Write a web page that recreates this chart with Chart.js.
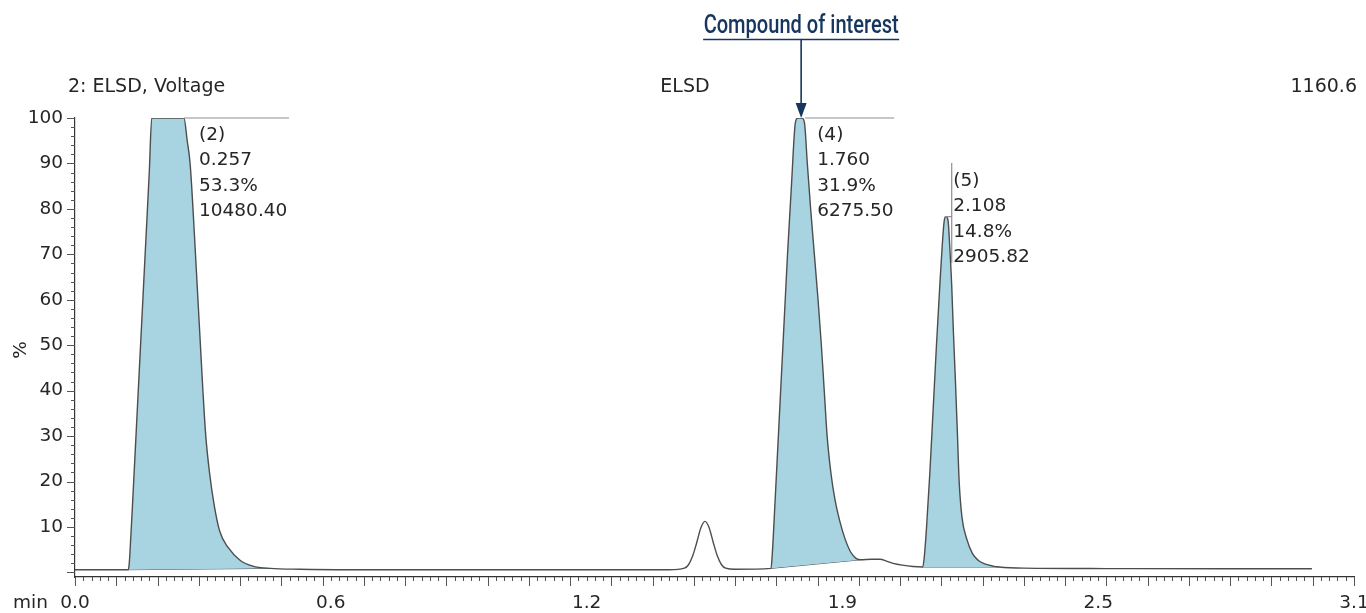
<!DOCTYPE html>
<html><head><meta charset="utf-8">
<script src="https://cdn.jsdelivr.net/npm/chart.js@4.4.1/dist/chart.umd.min.js"></script>
<style>html,body{margin:0;padding:0;background:#fff;overflow:hidden}canvas{display:block}</style>
</head><body>
<canvas id="c" width="1366" height="613"></canvas>
<script>
// ---- data ----
const timeMin = [0.000,0.060,0.110,0.129,0.131,0.133,0.140,0.150,0.160,0.170,0.180,0.186,0.225,0.264,0.272,0.279,0.286,0.292,0.298,0.304,0.310,0.317,0.326,0.337,0.351,0.371,0.400,0.431,0.473,0.545,0.667,0.900,1.200,1.440,1.477,1.487,1.497,1.507,1.517,1.527,1.537,1.547,1.557,1.567,1.577,1.600,1.687,1.690,1.697,1.707,1.717,1.727,1.737,1.746,1.752,1.762,1.768,1.775,1.783,1.792,1.801,1.809,1.816,1.823,1.832,1.842,1.853,1.866,1.880,1.893,1.905,1.930,1.951,1.967,1.983,2.005,2.031,2.054,2.058,2.064,2.072,2.080,2.088,2.096,2.102,2.107,2.111,2.116,2.120,2.125,2.129,2.134,2.139,2.143,2.150,2.161,2.175,2.189,2.205,2.225,2.240,2.300,2.500,2.800,2.998];
const signalPct = [0.6,0.6,0.6,0.6,1.5,4,16,34,52,70,88,100,100,100,95,90,80,70,60,50,40,30,22,15,9,5.5,2.7,1.4,0.9,0.7,0.6,0.6,0.6,0.6,0.95,1.7,3.6,6.6,9.85,11.25,9.85,6.6,3.6,1.7,0.95,0.7,0.9,4,16,34,52,70,86,99,100,100,99,90,80,70,60,50,40,30,22,16,11.5,7.5,4.5,3.1,2.8,2.9,2.9,2.5,2.0,1.6,1.3,1.2,3,10,22,36,50,63,72,77.5,78.3,77.5,72,63,53,42,30,20,12,7.5,4.2,2.7,1.9,1.4,1.2,0.95,0.85,0.8,0.8];

const peakIds     = ['(2)', '(4)', '(5)'];
const peakRT      = [0.257, 1.760, 2.108];
const peakAreaPct = ['53.3%', '31.9%', '14.8%'];
const peakArea    = ['10480.40', '6275.50', '2905.82'];
const peakStart   = [0.129, 1.687, 2.054];
const peakEnd     = [0.473, 1.905, 2.240];

const xTickValues = [0, 0.62, 1.24, 1.86, 2.48, 3.1];
const yTickValues = [0,10,20,30,40,50,60,70,80,90,100];

const headerLeft  = '2: ELSD, Voltage';
const headerMid   = 'ELSD';
const headerRight = '1160.6';
const yTitle = '%';
const xTitle = 'min';
const calloutText = 'Compound of interest';
const calloutPeak = 1;

// ---- build datasets ----
const FONT = '"DejaVu Sans", sans-serif';
const TXT = '#262626';
const FILL = '#a8d4e2';
const trace = timeMin.map((t,i)=>({x:t, y:signalPct[i]}));
const datasets = [];
peakStart.forEach((s,k)=>{
  const e = peakEnd[k];
  const seg = trace.filter(p=>p.x>=s-1e-9 && p.x<=e+1e-9);
  datasets.push({data:seg, borderWidth:0, pointRadius:0, backgroundColor:FILL,
    cubicInterpolationMode:'monotone', fill:'+1', order:2});
  datasets.push({data:[{x:s,y:seg[0].y},{x:e,y:seg[seg.length-1].y}], borderWidth:1, borderColor:'#555',
    pointRadius:0, fill:false, order:2});
});
datasets.push({data:trace, borderColor:'#4d4d4d', borderWidth:1.4, pointRadius:0, fill:false,
  cubicInterpolationMode:'monotone', order:1});

const labelStyle = [
  {dx:18, base:140, kind:'h', x0:3, x1:108},
  {dx:16, base:140, kind:'h', x0:4, x1:93},
  {dx:8.5, base:186, kind:'v', vx:7, vy0:163, vy1:263}
];

const deco = {
  id:'deco',
  afterDraw(chart){
    const {ctx, chartArea:a, scales:{x, y}} = chart;
    ctx.save();
    // minor / medium ticks
    ctx.strokeStyle = '#555'; ctx.lineWidth = 1;
    ctx.beginPath();
    for (let k=0; k<=155; k++){
      const px = Math.round(x.getPixelForValue(k*0.02))+0.5;
      const len = k%5===0 ? 9 : 4;
      ctx.moveTo(px, a.bottom); ctx.lineTo(px, a.bottom+len);
    }
    for (let v=0; v<=100; v+=2){
      const py = Math.round(y.getPixelForValue(v))+0.5;
      const len = v%10===0 ? 8 : 4;
      ctx.moveTo(a.left-len, py); ctx.lineTo(a.left, py);
    }
    ctx.stroke();

    // header
    ctx.fillStyle = TXT; ctx.font = '19px '+FONT; ctx.textBaseline='alphabetic';
    ctx.textAlign='left'; ctx.fillText(headerLeft, 68, 92);
    ctx.textAlign='center'; ctx.fillText(headerMid, 685, 92);
    ctx.textAlign='right'; ctx.fillText(headerRight, 1357, 92);

    // axis titles
    ctx.font = '18.5px '+FONT; ctx.textAlign='left';
    ctx.fillText(xTitle, 13, 608);
    ctx.save(); ctx.translate(26, 350); ctx.rotate(-Math.PI/2);
    ctx.textAlign='center'; ctx.fillText(yTitle, 0, 0); ctx.restore();

    // peak annotations
    const top = y.getPixelForValue(100);
    peakRT.forEach((rt,k)=>{
      const st = labelStyle[k];
      const px = x.getPixelForValue(rt);
      ctx.strokeStyle = '#8f8f8f'; ctx.lineWidth = 1.2;
      ctx.beginPath();
      if (st.kind==='h'){
        ctx.moveTo(px+st.x0, top); ctx.lineTo(px+st.x1, top);
      } else {
        const seg = trace.filter(p=>p.x>=peakStart[k] && p.x<=peakEnd[k]);
        const apex = Math.max(...seg.map(p=>p.y));
        const ay = y.getPixelForValue(apex);
        ctx.moveTo(px+st.vx, st.vy0); ctx.lineTo(px+st.vx, st.vy1);
        ctx.moveTo(px, ay); ctx.lineTo(px+st.vx, ay);
      }
      ctx.stroke();
      ctx.fillStyle = TXT; ctx.font='18.5px '+FONT; ctx.textAlign='left';
      const lines = [peakIds[k], rt.toFixed(3), peakAreaPct[k], peakArea[k]];
      lines.forEach((s,i)=>ctx.fillText(s, px+st.dx, st.base + i*25.3));
    });

    // callout
    const cx = x.getPixelForValue(peakRT[calloutPeak]);
    const navy = '#17365f';
    ctx.fillStyle = navy; ctx.strokeStyle = navy;
    ctx.font = '500 25px Roboto, "Open Sans", sans-serif';
    const w = ctx.measureText(calloutText).width;
    const targetW = 195;
    ctx.save(); ctx.translate(cx, 33); ctx.scale(targetW/w, 1);
    ctx.textAlign='center'; ctx.fillText(calloutText, 0, 0); ctx.restore();
    ctx.lineWidth = 1.6;
    ctx.beginPath(); ctx.moveTo(cx-98, 39.5); ctx.lineTo(cx+98, 39.5);
    ctx.moveTo(cx, 39.5); ctx.lineTo(cx, top-12); ctx.stroke();
    ctx.beginPath(); ctx.moveTo(cx-5.5, top-15); ctx.lineTo(cx+5.5, top-15); ctx.lineTo(cx, top); ctx.closePath(); ctx.fill();
    ctx.restore();
  }
};

new Chart(document.getElementById('c'), {
  type:'line',
  data:{datasets},
  options:{
    responsive:false, animation:false, devicePixelRatio:1,
    layout:{padding:{top:118, right:12, bottom:0, left:0}},
    plugins:{legend:{display:false}, tooltip:{enabled:false}},
    scales:{
      x:{type:'linear', min:0, max:3.1,
        afterBuildTicks:s=>{s.ticks = xTickValues.map(v=>({value:v}));},
        afterFit:s=>{s.height=36; s.paddingLeft=0; s.paddingRight=0;},
        ticks:{callback:v=>Number(v).toFixed(1), font:{family:FONT, size:18.5}, color:TXT, padding:15, maxRotation:0, autoSkip:false},
        grid:{display:false, drawTicks:false},
        border:{display:true, color:'#333', width:1.2}},
      y:{type:'linear', min:-1, max:100,
        afterBuildTicks:s=>{s.ticks = yTickValues.map(v=>({value:v}));},
        afterFit:s=>{s.width=75; s.paddingTop=0; s.paddingBottom=0;},
        ticks:{callback:v=> v===0 ? '' : String(v), font:{family:FONT, size:18.5}, color:TXT, padding:12, autoSkip:false},
        grid:{display:false, drawTicks:false},
        border:{display:true, color:'#333', width:1.2}}
    }
  },
  plugins:[deco]
});
</script>
</body></html>
